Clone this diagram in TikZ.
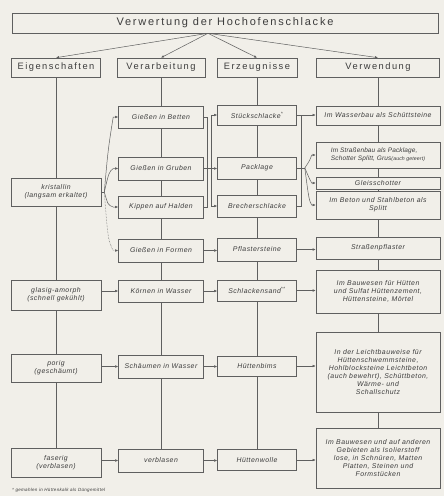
\documentclass[tikz,border=0pt]{standalone}
\usepackage{fontspec}
\setmainfont{Liberation Sans}
\newfontfamily\hdfont[LetterSpace=16]{Liberation Sans}
\newfontfamily\bdfont[LetterSpace=7]{Liberation Sans}
\newfontfamily\bdnfont[LetterSpace=2]{Liberation Sans}
\usetikzlibrary{arrows.meta,calc}
\definecolor{paper}{RGB}{241,239,233}
\definecolor{ink}{RGB}{95,95,95}
\definecolor{txt}{RGB}{60,60,60}
\begin{document}
\begin{tikzpicture}[x=1pt,y=-1pt,
  box/.style={draw=ink,line width=0.6pt,inner sep=1pt,align=center,text=txt,
    font=\bdfont\itshape\fontsize{6.9}{8}\selectfont},
  hbox/.style={draw=ink,line width=0.6pt,inner sep=1pt,text=txt,
    font=\hdfont\fontsize{9.3}{11}\selectfont,minimum height=19pt},
  ln/.style={draw=ink,line width=0.5pt},
  arr/.style={ln,-{Latex[length=3pt,width=2.6pt]}}]
\fill[paper] (0,0) rectangle (444,496);
\useasboundingbox (0,0) rectangle (444,496);
% title and headers
\node[hbox,minimum width=426pt,minimum height=20pt,font=\hdfont\fontsize{11}{13}\selectfont] (title) at (225,23) {Verwertung der Hochofenschlacke};
\node[hbox,minimum width=89pt] (eig) at (56,67.5) {Eigenschaften};
\node[hbox,minimum width=88pt] (ver) at (161,67.5) {Verarbeitung};
\node[hbox,minimum width=80pt] (erz) at (257,67.5) {Erzeugnisse};
\node[hbox,minimum width=123pt] (vwd) at (378,67.5) {Verwendung};
\coordinate (tc) at ($(title.south)+(-17,0)$);
\foreach \h in {eig,ver,erz,vwd}{\draw[arr] (tc) -- (\h.north);}
% column 1
\node[box,minimum width=90pt,minimum height=28pt] (kr) at (56,192) {kristallin\\(langsam erkaltet)};
\node[box,minimum width=90pt,minimum height=30pt] (gl) at (56,295) {glasig-amorph\\(schnell gekühlt)};
\node[box,minimum width=90pt,minimum height=28pt] (po) at (56,368) {porig\\(geschäumt)};
\node[box,minimum width=90pt,minimum height=29pt] (fa) at (56,462.5) {faserig\\(verblasen)};
% column 2
\node[box,minimum width=85pt,minimum height=22pt] (be) at (161,117) {Gießen in Betten};
\node[box,minimum width=85pt,minimum height=23pt] (gr) at (161,168.5) {Gießen in Gruben};
\node[box,minimum width=85pt,minimum height=22pt] (ki) at (161,207) {Kippen auf Halden};
\node[box,minimum width=85pt,minimum height=23pt] (fo) at (161,250.5) {Gießen in Formen};
\node[box,minimum width=85pt,minimum height=22pt] (ko) at (161,291) {Körnen in Wasser};
\node[box,minimum width=85pt,minimum height=23pt] (sc) at (161,366.5) {Schäumen in Wasser};
\node[box,minimum width=85pt,minimum height=23pt] (vb) at (161,460.5) {verblasen};
% column 3
\node[box,minimum width=79pt,minimum height=20pt] (st) at (257,115) {Stückschlacke\textsuperscript{*}};
\node[box,minimum width=79pt,minimum height=22pt] (pa) at (257,168) {Packlage};
\node[box,minimum width=79pt,minimum height=22pt] (br) at (257,206) {Brecherschlacke};
\node[box,minimum width=79pt,minimum height=23pt] (pf) at (257,249.5) {Pflastersteine};
\node[box,minimum width=79pt,minimum height=21pt] (sa) at (257,290.5) {Schlackensand\textsuperscript{**}};
\node[box,minimum width=79pt,minimum height=20pt] (hb) at (257,366) {Hüttenbims};
\node[box,minimum width=79pt,minimum height=21pt] (hw) at (257,460) {Hüttenwolle};
% column 4
\node[box,minimum width=124pt,minimum height=19pt] (wa) at (378,115.5) {Im Wasserbau als Schüttsteine};
\node[box,minimum width=124pt,minimum height=26pt,align=left,
  font=\bdnfont\itshape\fontsize{6.5}{7.8}\selectfont] (sb) at (378,155) {Im Straßenbau als Packlage,\\Schotter Splitt, Grus{\fontsize{5.2}{6}\selectfont(auch geteert)}};
\node[box,minimum width=124pt,minimum height=12pt] (gs) at (378,183) {Gleisschotter};
\node[box,minimum width=124pt,minimum height=28pt] (bt) at (378,205) {Im Beton und Stahlbeton als\\Splitt};
\node[box,minimum width=124pt,minimum height=22pt] (sp) at (378,248) {Straßenpflaster};
\node[box,minimum width=124pt,minimum height=43pt] (bw) at (378,291.5) {Im Bauwesen für Hütten\\und Sulfat Hüttenzement,\\Hüttensteine, Mörtel};
\node[box,minimum width=124pt,minimum height=80pt] (lb) at (378,372) {In der Leichtbauweise für\\Hüttenschwemmsteine,\\Hohlblocksteine Leichtbeton\\(auch bewehrt), Schüttbeton,\\Wärme- und\\Schallschutz};
\node[box,minimum width=124pt,minimum height=60pt] (bw2) at (378,458) {Im Bauwesen und auf anderen\\Gebieten als Isolierstoff\\lose, in Schnüren, Matten\\Platten, Steinen und\\Formstücken};
% footnote
\node[anchor=west,text=txt,font=\bdfont\itshape\fontsize{4.5}{5}\selectfont,inner sep=0pt] (fn) at (12,490) {* gemahlen in Hüttenkalk als Düngemittel};
% vertical tree lines
\draw[ln] (eig.south) -- (kr.north) (kr.south) -- (gl.north) (gl.south) -- (po.north) (po.south) -- (fa.north);
\draw[ln] (ver.south) -- (be.north) (be.south) -- (gr.north) (gr.south) -- (ki.north) (ki.south) -- (fo.north)
  (fo.south) -- (ko.north) (ko.south) -- (sc.north) (sc.south) -- (vb.north);
\draw[ln] (erz.south) -- (st.north) (st.south) -- (pa.north) (pa.south) -- (br.north) (br.south) -- (pf.north)
  (pf.south) -- (sa.north) (sa.south) -- (hb.north) (hb.south) -- (hw.north);
\draw[ln] (vwd.south) -- (wa.north) (wa.south) -- (sb.north) (sb.south) -- (gs.north) (gs.south) -- (bt.north)
  (bt.south) -- (sp.north) (sp.south) -- (bw.north) (bw.south) -- (lb.north) (lb.south) -- (bw2.north);
% kristallin fan
\coordinate (kf) at ($(kr.east)+(3,0)$);
\draw[ln] (kr.east) -- (kf);
\draw[arr] (kf) .. controls (108,150) .. ($(be.west)+(-5,0)$) -- (be.west);
\draw[arr] (kf) .. controls (109,172) .. ($(gr.west)+(-5,0)$) -- (gr.west);
\draw[arr] (kf) .. controls (108,205) .. ($(ki.west)+(-5,0)$) -- (ki.west);
\draw[arr,densely dotted] (kf) .. controls (108,240) .. ($(fo.west)+(-5,0)$) -- (fo.west);
% column 2 -> column 3 bus
\coordinate (b2t) at ($(be.east)+(3,0)$);
\coordinate (b2b) at ($(ki.east)+(3,0)$);
\draw[ln] (be.east) -- (b2t) -- (b2b) -- (ki.east);
\coordinate (b3t) at ($(st.west)+(-6,0)$);
\coordinate (b3b) at ($(br.west)+(-6,0)$);
\draw[ln] (b3t) -- (b3b);
\draw[arr] (gr.east) -- (gr.east -| pa.west);
\draw[arr] (b3t) -- (st.west);
\draw[arr] (b3b) -- (br.west);
% column 3 -> column 4
\coordinate (c3t) at ($(st.east)+(4,0)$);
\coordinate (c3b) at ($(br.east)+(4,0)$);
\draw[ln] (st.east) -- (c3t) -- (c3b) -- (br.east);
\draw[arr] (st.east) -- (st.east -| wa.west);
\coordinate (pk) at ($(pa.east)+(8,0)$);
\draw[ln] (pa.east) -- (pk);
\draw[arr] (pk) .. controls (310,160) .. ($(sb.west)+(-4,0)$) -- (sb.west);
\draw[arr] (pk) .. controls (310,180) .. ($(gs.west)+(-4,0)$) -- (gs.west);
\draw[arr] (pk) .. controls (309,200) .. ($(bt.west)+(-4,0)$) -- (bt.west);
% row arrows
\draw[arr] (fo.east) -- (fo.east -| pf.west);
\draw[arr] (pf.east) -- (pf.east -| sp.west);
\draw[arr] (ko.west -| gl.east) -- (ko.west);
\draw[arr] (ko.east) -- (ko.east -| sa.west);
\draw[arr] (sa.east) -- (sa.east -| bw.west);
\draw[arr] (sc.west -| po.east) -- (sc.west);
\draw[arr] (sc.east) -- (sc.east -| hb.west);
\draw[arr] (hb.east) -- (hb.east -| lb.west);
\draw[arr] (vb.west -| fa.east) -- (vb.west);
\draw[arr] (vb.east) -- (vb.east -| hw.west);
\draw[arr] (hw.east) -- (hw.east -| bw2.west);
\end{tikzpicture}
\end{document}
